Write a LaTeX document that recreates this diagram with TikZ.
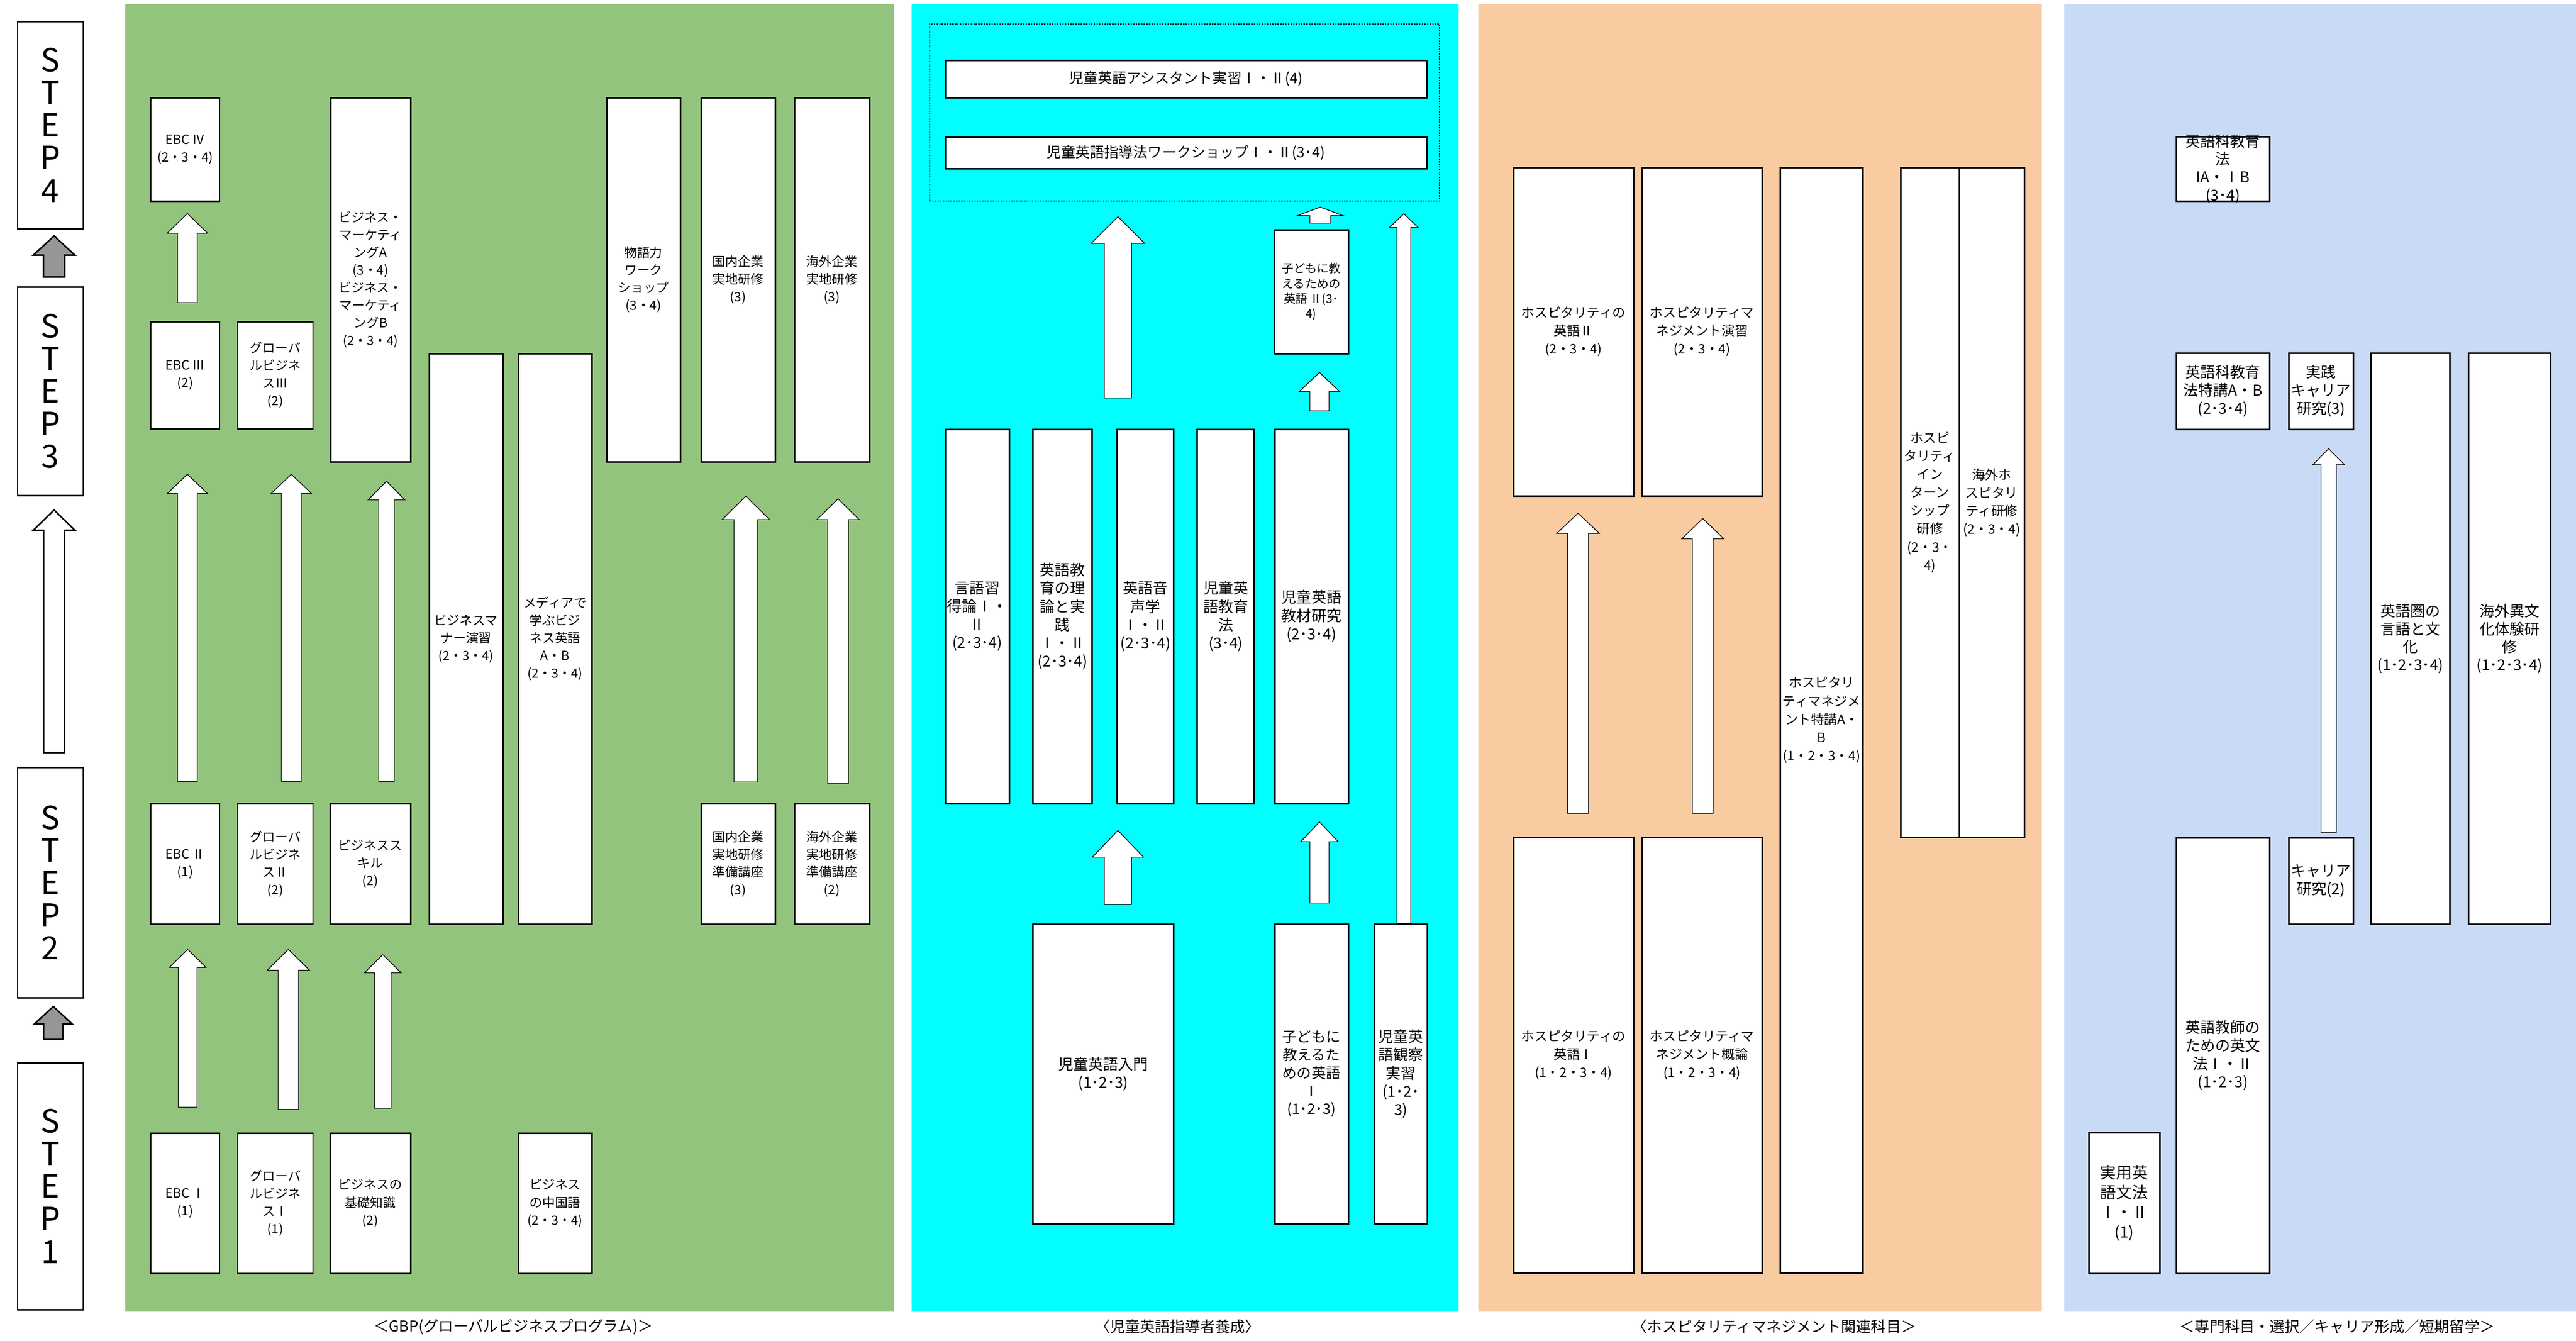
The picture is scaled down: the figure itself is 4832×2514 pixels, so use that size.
\documentclass[tikz,border=0pt]{standalone}
\usepackage{fontspec}
\setmainfont{Noto Sans CJK JP}
\usetikzlibrary{calc}

\definecolor{gbpgreen}{HTML}{93C47D}
\definecolor{kidcyan}{HTML}{00FFFF}
\definecolor{hospor}{HTML}{F8CBA0}
\definecolor{specblue}{HTML}{C9DAF6}
\definecolor{stepgray}{HTML}{969696}

% [style]{from}{to}{dx}{gap tail}{gap tip}{half shaft}{half head}{head length}
\newcommand{\blkarrow}[9][]{%
	\coordinate (tl) at ($(#2.north)+(#4,-#5)$);
	\coordinate (tp) at ($(tl |- #3.south)+(0,#6)$);
	\draw[blockarr, #1] ($(tl)+(-#7,0)$) -- ($(tp)+(-#7,#9)$) -- ($(tp)+(-#8,#9)$) -- (tp)
		-- ($(tp)+(#8,#9)$) -- ($(tp)+(#7,#9)$) -- ($(tl)+(#7,0)$) -- cycle;
}

\begin{document}
\begin{tikzpicture}[x=0.1mm, y=-0.1mm]

	\tikzstyle{course}=[draw, fill=white, line width=0.85pt, inner sep=0pt, align=center]
	\tikzstyle{stepbox}=[course, minimum width=12.3mm, font=\fontsize{17}{17.4}\selectfont]
	\tikzstyle{gbp}=[course, font=\fontsize{6.8}{9.4}\selectfont]
	\tikzstyle{kid}=[course, font=\fontsize{8}{9.7}\selectfont]
	\tikzstyle{hosp}=[course, font=\fontsize{7}{9.7}\selectfont]
	\tikzstyle{spec}=[course, font=\fontsize{8}{9.6}\selectfont]
	\tikzstyle{caption}=[inner sep=0pt, font=\fontsize{8}{9}\selectfont]
	\tikzstyle{blockarr}=[draw, fill=white, line width=0.4pt]
	\tikzstyle{stepar}=[line width=0.8pt]

	\useasboundingbox (0,0) rectangle (4832,2514);
	\fill[white] (0,0) rectangle (4832,2514);

	\fill[gbpgreen] (235,8) rectangle (1677,2460); % GBP
	\fill[kidcyan] (1710,8) rectangle (2736,2460); % CHILDREN
	\fill[hospor] (2773,8) rectangle (3830,2460); % HOSPITALITY
	\fill[specblue] (3872,8) rectangle (4832,2460); % SPECIAL

	\coordinate (step_4) at (94.5,234.5); % STEP
	\coordinate (step_3) at (94.5,733.5); % STEP
	\coordinate (step_2) at (94.5,1655); % STEP
	\coordinate (step_1) at (94.5,2224.5); % STEP

	\coordinate (ebc_4) at (347.5,280); % GBP
	\coordinate (ebc_3) at (347.5,703.5); % GBP
	\coordinate (gb_3) at (516.5,703.5); % GBP
	\coordinate (mkt) at (695,524.5); % GBP
	\coordinate (manner) at (874,1198); % GBP
	\coordinate (media) at (1041,1198); % GBP
	\coordinate (story) at (1207,524.5); % GBP
	\coordinate (dom_1) at (1384.5,524.5); % GBP
	\coordinate (ovs_1) at (1560.5,524.5); % GBP
	\coordinate (ebc_2) at (347.5,1620); % GBP
	\coordinate (gb_2) at (516.5,1620); % GBP
	\coordinate (skill) at (694.5,1620); % GBP
	\coordinate (dom_0) at (1384.5,1620); % GBP
	\coordinate (ovs_0) at (1560.5,1620); % GBP
	\coordinate (ebc_1) at (347.5,2256.5); % GBP
	\coordinate (gb_1) at (516.5,2256.5); % GBP
	\coordinate (basic) at (694.5,2256.5); % GBP
	\coordinate (chinese) at (1041,2256.5); % GBP

	\coordinate (frame) at (2222,211); % CHILDREN
	\coordinate (assist) at (2224.5,148); % CHILDREN
	\coordinate (wshop) at (2224.5,286.5); % CHILDREN
	\coordinate (kodomo_2) at (2459.5,547); % CHILDREN
	\coordinate (gengo) at (1833,1156); % CHILDREN
	\coordinate (riron) at (1993,1156); % CHILDREN
	\coordinate (onsei) at (2148.6,1156); % CHILDREN
	\coordinate (kyoiku) at (2299.3,1156); % CHILDREN
	\coordinate (kyozai) at (2460,1156); % CHILDREN
	\coordinate (nyumon) at (2069.5,2014); % CHILDREN
	\coordinate (kodomo_1) at (2460,2014); % CHILDREN
	\coordinate (kansatsu) at (2627.75,2014); % CHILDREN

	\coordinate (hosp_e2) at (2951.5,622.25); % HOSPITALITY
	\coordinate (hosp_m2) at (3192.5,622.25); % HOSPITALITY
	\coordinate (tokko) at (3417,1350.5); % HOSPITALITY
	\coordinate (intern) at (3620,942.25); % HOSPITALITY
	\coordinate (kaigai_h) at (3736,942.25); % HOSPITALITY
	\coordinate (hosp_e1) at (2951.5,1978.75); % HOSPITALITY
	\coordinate (hosp_m1) at (3192.5,1978.75); % HOSPITALITY

	\coordinate (ka_1) at (4169.5,316.75); % SPECIAL
	\coordinate (ka_t) at (4169.5,733.5); % SPECIAL
	\coordinate (jissen) at (4353.5,733.5); % SPECIAL
	\coordinate (eigoken) at (4521.3,1197.8); % SPECIAL
	\coordinate (ibunka) at (4707.3,1197.8); % SPECIAL
	\coordinate (career) at (4353.5,1652.3); % SPECIAL
	\coordinate (bunpo_t) at (4169.5,1979.5); % SPECIAL
	\coordinate (jitsuyo) at (3984.5,2256.25); % SPECIAL

	\node[stepbox, minimum height=38.9mm] (step_4) at (step_4) {S\\T\\E\\P\\4}; % STEP
	\node[stepbox, minimum height=39.1mm] (step_3) at (step_3) {S\\T\\E\\P\\3}; % STEP
	\node[stepbox, minimum height=43.2mm] (step_2) at (step_2) {S\\T\\E\\P\\2}; % STEP
	\node[stepbox, minimum height=46.3mm] (step_1) at (step_1) {S\\T\\E\\P\\1}; % STEP

	\node[gbp, minimum width=12.9mm, minimum height=19.4mm] (ebc_4) at (ebc_4) {EBC Ⅳ\\(2・3・4)}; % GBP
	\node[gbp, minimum width=12.9mm, minimum height=20.1mm] (ebc_3) at (ebc_3) {EBC Ⅲ\\(2)}; % GBP
	\node[gbp, minimum width=14.1mm, minimum height=20.1mm] (gb_3) at (gb_3) {グローバ\\ルビジネ\\スⅢ\\(2)}; % GBP
	\node[gbp, minimum width=15mm, minimum height=68.3mm] (mkt) at (mkt) {ビジネス・\\マーケティ\\ングA\\(3・4)\\ビジネス・\\マーケティ\\ングB\\(2・3・4)}; % GBP
	\node[gbp, minimum width=13.8mm, minimum height=107mm] (manner) at (manner) {ビジネスマ\\ナー演習\\(2・3・4)}; % GBP
	\node[gbp, minimum width=13.8mm, minimum height=107mm] (media) at (media) {メディアで\\学ぶビジ\\ネス英語\\A・B\\(2・3・4)}; % GBP
	\node[gbp, minimum width=13.8mm, minimum height=68.3mm] (story) at (story) {物語力\\ワーク\\ショップ\\(3・4)}; % GBP
	\node[gbp, minimum width=13.9mm, minimum height=68.3mm] (dom_1) at (dom_1) {国内企業\\実地研修\\(3)}; % GBP
	\node[gbp, minimum width=14.1mm, minimum height=68.3mm] (ovs_1) at (ovs_1) {海外企業\\実地研修\\(3)}; % GBP
	\node[gbp, minimum width=12.9mm, minimum height=22.6mm] (ebc_2) at (ebc_2) {EBC Ⅱ\\(1)}; % GBP
	\node[gbp, minimum width=14.1mm, minimum height=22.6mm] (gb_2) at (gb_2) {グローバ\\ルビジネ\\スⅡ\\(2)}; % GBP
	\node[gbp, minimum width=15.1mm, minimum height=22.6mm] (skill) at (skill) {ビジネスス\\キル\\(2)}; % GBP
	\node[gbp, minimum width=13.9mm, minimum height=22.6mm] (dom_0) at (dom_0) {国内企業\\実地研修\\準備講座\\(3)}; % GBP
	\node[gbp, minimum width=14.1mm, minimum height=22.6mm] (ovs_0) at (ovs_0) {海外企業\\実地研修\\準備講座\\(2)}; % GBP
	\node[gbp, minimum width=12.9mm, minimum height=26.3mm] (ebc_1) at (ebc_1) {EBC Ⅰ\\(1)}; % GBP
	\node[gbp, minimum width=14.1mm, minimum height=26.3mm] (gb_1) at (gb_1) {グローバ\\ルビジネ\\スⅠ\\(1)}; % GBP
	\node[gbp, minimum width=15.1mm, minimum height=26.3mm] (basic) at (basic) {ビジネスの\\基礎知識\\(2)}; % GBP
	\node[gbp, minimum width=13.8mm, minimum height=26.3mm] (chinese) at (chinese) {ビジネス\\の中国語\\(2・3・4)}; % GBP

	\node[draw, line width=0.8pt, dash pattern=on 0.7pt off 0.7pt, minimum width=95.6mm, minimum height=33.2mm] (frame) at (frame) {}; % CHILDREN
	\node[kid, font=\fontsize{7.7}{9}\selectfont, minimum width=90.3mm, minimum height=7mm] (assist) at (assist) {児童英語アシスタント実習Ⅰ・Ⅱ(4)}; % CHILDREN
	\node[kid, font=\fontsize{7.7}{9}\selectfont, minimum width=90.3mm, minimum height=5.9mm] (wshop) at (wshop) {児童英語指導法ワークショップⅠ・Ⅱ(3･4)}; % CHILDREN
	\node[kid, font=\fontsize{6.3}{8}\selectfont, minimum width=13.9mm, minimum height=23.2mm] (kodomo_2) at (kodomo_2) {子どもに教\\えるための\\英語 Ⅱ(3･\\4)}; % CHILDREN
	\node[kid, minimum width=12mm, minimum height=70.2mm] (gengo) at (gengo) {言語習\\得論Ⅰ・\\Ⅱ\\(2･3･4)}; % CHILDREN
	\node[kid, minimum width=11.1mm, minimum height=70.2mm] (riron) at (riron) {英語教\\育の理\\論と実\\践\\Ⅰ・Ⅱ\\(2･3･4)}; % CHILDREN
	\node[kid, minimum width=10.6mm, minimum height=70.2mm] (onsei) at (onsei) {英語音\\声学\\Ⅰ・Ⅱ\\(2･3･4)}; % CHILDREN
	\node[kid, minimum width=10.7mm, minimum height=70.2mm] (kyoiku) at (kyoiku) {児童英\\語教育\\法\\(3･4)}; % CHILDREN
	\node[kid, minimum width=13.8mm, minimum height=70.2mm] (kyozai) at (kyozai) {児童英語\\教材研究\\(2･3･4)}; % CHILDREN
	\node[kid, minimum width=26.4mm, minimum height=56.2mm] (nyumon) at (nyumon) {児童英語入門\\(1･2･3)}; % CHILDREN
	\node[kid, font=\fontsize{7.7}{9.6}\selectfont, minimum width=13.8mm, minimum height=56.2mm] (kodomo_1) at (kodomo_1) {子どもに\\教えるた\\めの英語\\Ⅰ\\(1･2･3)}; % CHILDREN
	\node[kid, minimum width=9.95mm, minimum height=56.2mm] (kansatsu) at (kansatsu) {児童英\\語観察\\実習\\(1･2･\\3)}; % CHILDREN

	\node[hosp, minimum width=22.5mm, minimum height=61.65mm] (hosp_e2) at (hosp_e2) {ホスピタリティの\\英語Ⅱ\\(2・3・4)}; % HOSPITALITY
	\node[hosp, minimum width=22.5mm, minimum height=61.65mm] (hosp_m2) at (hosp_m2) {ホスピタリティマ\\ネジメント演習\\(2・3・4)}; % HOSPITALITY
	\node[hosp, minimum width=15.5mm, minimum height=207.3mm] (tokko) at (tokko) {ホスピタリ\\ティマネジメ\\ント特講A・\\B\\(1・2・3・4)}; % HOSPITALITY
	\node[hosp, minimum width=11mm, minimum height=125.65mm] (intern) at (intern) {ホスピ\\タリティ\\イン\\ターン\\シップ\\研修\\(2・3・\\4)}; % HOSPITALITY
	\node[hosp, minimum width=12.2mm, minimum height=125.65mm] (kaigai_h) at (kaigai_h) {海外ホ\\スピタリ\\ティ研修\\(2・3・4)}; % HOSPITALITY
	\node[hosp, minimum width=22.5mm, minimum height=81.65mm] (hosp_e1) at (hosp_e1) {ホスピタリティの\\英語Ⅰ\\(1・2・3・4)}; % HOSPITALITY
	\node[hosp, minimum width=22.5mm, minimum height=81.65mm] (hosp_m1) at (hosp_m1) {ホスピタリティマ\\ネジメント概論\\(1・2・3・4)}; % HOSPITALITY

	\node[spec, minimum width=17.5mm, minimum height=12.15mm] (ka_1) at (ka_1) {}; % SPECIAL
	\begin{scope}
		\clip (ka_1.south west) rectangle (ka_1.north east);
		\node[inner sep=0pt, align=center, font=\fontsize{8}{9.6}\selectfont] (ka_1_txt) at (ka_1) {英語科教育\\法\\IA・ⅠB\\(3･4)};
	\end{scope}
	\node[spec, minimum width=17.5mm, minimum height=14.3mm] (ka_t) at (ka_t) {英語科教育\\法特講A・B\\(2･3･4)}; % SPECIAL
	\node[spec, minimum width=12.1mm, minimum height=14.3mm] (jissen) at (jissen) {実践\\キャリア\\研究(3)}; % SPECIAL
	\node[spec, minimum width=14.74mm, minimum height=107.16mm] (eigoken) at (eigoken) {英語圏の\\言語と文\\化\\(1･2･3･4)}; % SPECIAL
	\node[spec, minimum width=15.34mm, minimum height=107.16mm] (ibunka) at (ibunka) {海外異文\\化体験研\\修\\(1･2･3･4)}; % SPECIAL
	\node[spec, minimum width=12.1mm, minimum height=16.26mm] (career) at (career) {キャリア\\研究(2)}; % SPECIAL
	\node[spec, minimum width=17.5mm, minimum height=81.7mm] (bunpo_t) at (bunpo_t) {英語教師の\\ための英文\\法Ⅰ・Ⅱ\\(1･2･3)}; % SPECIAL
	\node[spec, font=\fontsize{8.5}{10.5}\selectfont, minimum width=13.3mm, minimum height=26.35mm] (jitsuyo) at (jitsuyo) {実用英\\語文法\\Ⅰ・Ⅱ\\(1)}; % SPECIAL

	\node[caption] (cap_gbp) at (963,2488) {＜GBP(グローバルビジネスプログラム)＞};
	\node[caption] (cap_kid) at (2209,2488) {〈児童英語指導者養成〉};
	\node[caption] (cap_hosp) at (3328,2488) {〈ホスピタリティマネジメント関連科目＞};
	\node[caption] (cap_spec) at (4384,2488) {＜専門科目・選択／キャリア形成／短期留学＞};

	\blkarrow[stepar, fill=stepgray]{step_3}{step_4}{7}{17}{12}{20}{39}{36}
	\blkarrow[stepar]{step_2}{step_3}{7}{26}{26}{19.5}{39}{38}
	\blkarrow[stepar, fill=stepgray]{step_1}{step_2}{5.5}{42}{15}{18}{35.5}{33}

	\blkarrow{ebc_3}{ebc_4}{4}{34}{22}{18.5}{38}{37}
	\blkarrow{ebc_2}{ebc_3}{4}{40}{84}{18.5}{37.5}{36}
	\blkarrow{gb_2}{gb_3}{30}{40}{84}{18.5}{37.7}{36}
	\blkarrow{skill}{mkt}{30.5}{40}{35}{14.5}{34.5}{35}
	\blkarrow{dom_0}{dom_1}{14.5}{39}{63}{22}{44.5}{44}
	\blkarrow{ovs_0}{ovs_1}{11.5}{36}{68}{19.3}{39.7}{39}
	\blkarrow{ebc_1}{ebc_2}{4.5}{47}{46}{17.5}{34.5}{34}
	\blkarrow{gb_1}{gb_2}{24.5}{43}{46}{19}{39.5}{39}
	\blkarrow{basic}{skill}{23.5}{45}{56}{15.5}{34.5}{34}

	\blkarrow{onsei}{frame}{-51.6}{57}{28}{25.5}{50}{50}
	\blkarrow{nyumon}{riron}{27.5}{35}{49}{25.5}{48}{50}
	\blkarrow{kodomo_1}{kyozai}{15}{38}{33}{18}{35}{37}
	\blkarrow{kyozai}{kodomo_2}{15}{33}{34}{18}{38}{36}
	\blkarrow{kodomo_2}{frame}{17}{11}{10}{19.5}{42.5}{16}
	\blkarrow{kansatsu}{frame}{5.5}{0}{22.5}{13}{27}{26}

	\blkarrow{hosp_e1}{hosp_e2}{8.5}{43.5}{30.5}{19.8}{40}{38}
	\blkarrow{hosp_m1}{hosp_m2}{1.5}{43.5}{40.5}{19.5}{39.5}{38}

	\blkarrow{career}{jissen}{14.5}{8}{35}{14.3}{29.7}{30}
\end{tikzpicture}
\end{document}
